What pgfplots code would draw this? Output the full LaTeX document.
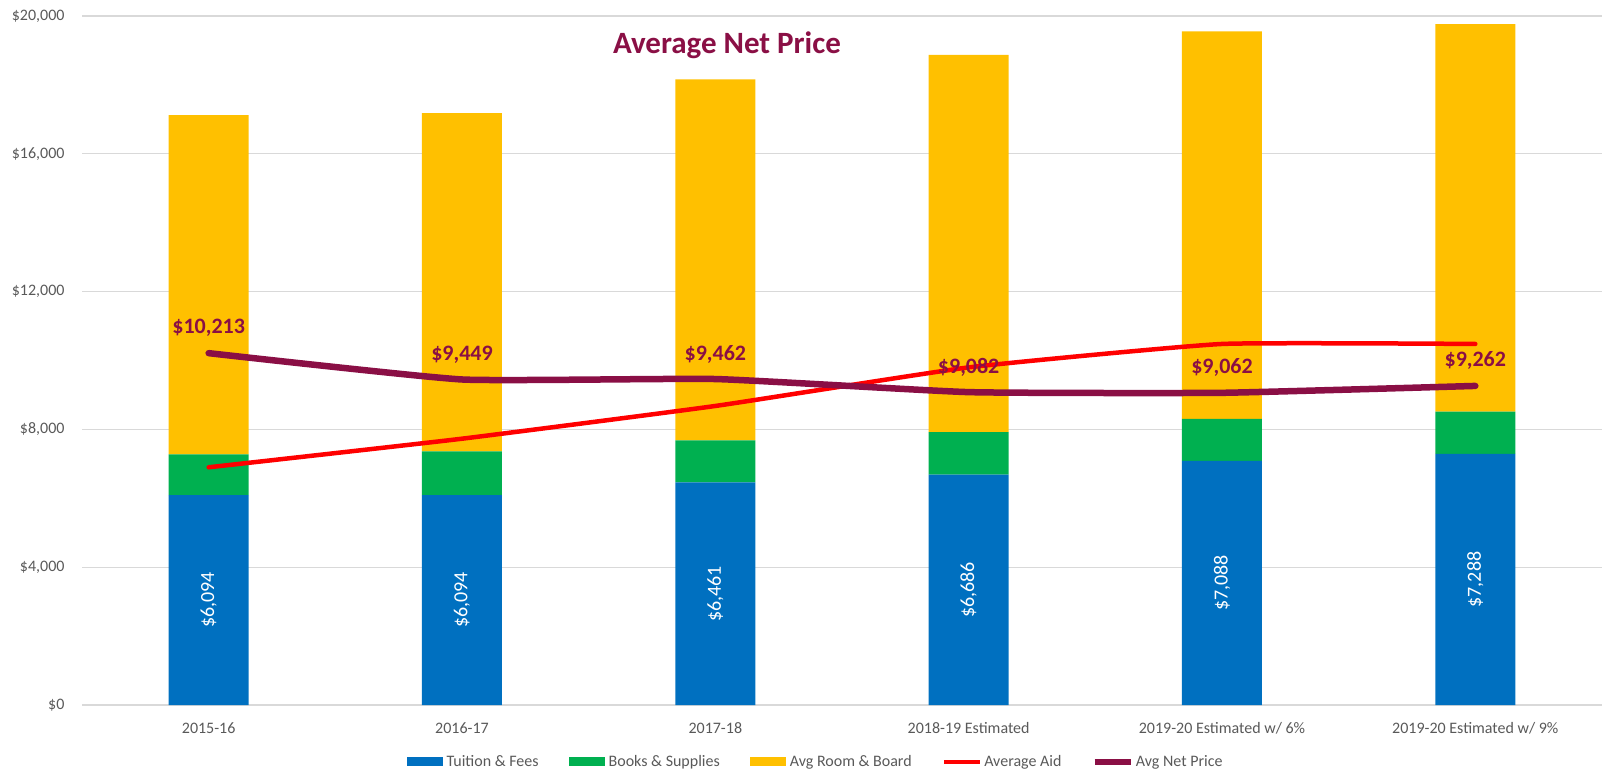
\documentclass[border=0pt]{standalone}
\usepackage{pgfplots}
\pgfplotsset{compat=1.18}
\usepackage{fontspec}
\setmainfont{Carlito}
\definecolor{cblue}{HTML}{0070C0}
\definecolor{cgreen}{HTML}{00B050}
\definecolor{cyellow}{HTML}{FFC000}
\definecolor{cred}{HTML}{FF0000}
\definecolor{cmaroon}{HTML}{8A0F45}
\definecolor{ctext}{HTML}{595959}
\definecolor{cgrid}{HTML}{D9D9D9}
\begin{document}
\begin{tikzpicture}
\pgfplotsset{
  common/.style={
    at={(82pt,66pt)}, anchor=south west,
    scale only axis, width=1520pt, height=689pt,
    xmin=-0.5, xmax=5.5, ymin=0, ymax=20000,
    /pgf/number format/fixed,
    /pgf/number format/1000 sep={,},
    /pgf/number format/precision=0,
    /pgf/number format/assume math mode=true,
  }
}
\begin{axis}[common,
  ybar stacked, bar width=80pt,
  axis line style={draw=none},
  major tick length=0pt,
  ymajorgrids, grid style={cgrid, line width=1.2pt},
  ytick={0,4000,...,20000},
  xtick={0,...,5},
  xticklabels={2015-16,2016-17,2017-18,2018-19 Estimated,2019-20 Estimated w/ 6\%,2019-20 Estimated w/ 9\%},
  scaled y ticks=false,
  yticklabel={\$\pgfmathprintnumber{\tick}},
  yticklabel style={font=\fontsize{16}{19}\selectfont, text=ctext, xshift=-14pt},
  xticklabel style={font=\fontsize{16}{19}\selectfont, text=ctext, yshift=-14pt},
  legend style={at={(axis description cs:0.4826,-0.0827)}, anchor=center, draw=none, fill=none,
    font=\fontsize{16}{19}\selectfont, text=ctext,
    /tikz/every even column/.append style={column sep=28pt}},
  legend columns=5,
  legend cell align=left,
]
\addplot[fill=cblue, draw=none, legend image code/.code={\fill[cblue] (0pt,-4.5pt) rectangle (36pt,4.5pt);}]
  coordinates {(0,6094) (1,6094) (2,6461) (3,6686) (4,7088) (5,7288)};
\addlegendentry{\hspace{2pt}Tuition \& Fees}
\addplot[fill=cgreen, draw=none, legend image code/.code={\fill[cgreen] (0pt,-4.5pt) rectangle (36pt,4.5pt);}]
  coordinates {(0,1180) (1,1265) (2,1224) (3,1237) (4,1221) (5,1228)};
\addlegendentry{\hspace{2pt}Books \& Supplies}
\addplot[fill=cyellow, draw=none, legend image code/.code={\fill[cyellow] (0pt,-4.5pt) rectangle (36pt,4.5pt);}]
  coordinates {(0,9850) (1,9822) (2,10475) (3,10949) (4,11246) (5,11247)};
\addlegendentry{\hspace{2pt}Avg Room \& Board}
\addlegendimage{legend image code/.code={\draw[cred, line width=4.5pt] (0pt,0pt) -- (36pt,0pt);}}
\addlegendentry{Average Aid}
\addlegendimage{legend image code/.code={\draw[cmaroon, line width=6.5pt] (0pt,0pt) -- (36pt,0pt);}}
\addlegendentry{Avg Net Price}
\end{axis}
\begin{axis}[common, axis lines=none, clip=false]
\addplot[cred, line width=4.5pt, smooth, tension=0.25, line join=round, line cap=round]
  coordinates {(0,6900) (1,7730) (2,8680) (3,9800) (4,10480) (5,10480)};
\addplot[cmaroon, line width=6.5pt, smooth, tension=0.25, line join=round, line cap=round,
  nodes near coords={\$\pgfmathprintnumber{\pgfplotspointmeta}},
  every node near coord/.append style={font=\bfseries\fontsize{22}{26}\selectfont, text=cmaroon, anchor=center, inner sep=0pt, yshift=25pt}]
  coordinates {(0,10213) (1,9449) (2,9462) (3,9082) (4,9062) (5,9262)};
\addplot[draw=none, mark=none, point meta=explicit,
  nodes near coords={\$\pgfmathprintnumber{\pgfplotspointmeta}},
  every node near coord/.append style={font=\fontsize{20}{24}\selectfont, text=white, rotate=90, anchor=center, inner sep=0pt}]
  coordinates {(0,3047) [6094] (1,3047) [6094] (2,3230) [6461] (3,3343) [6686] (4,3544) [7088] (5,3644) [7288]};
\end{axis}
\node[anchor=base, font=\bfseries\fontsize{31}{36}\selectfont, text=cmaroon] at (727pt,717pt) {Average Net Price};
\pgfresetboundingbox
\useasboundingbox (0pt,0pt) rectangle (1602pt,771pt);
\end{tikzpicture}
\end{document}
